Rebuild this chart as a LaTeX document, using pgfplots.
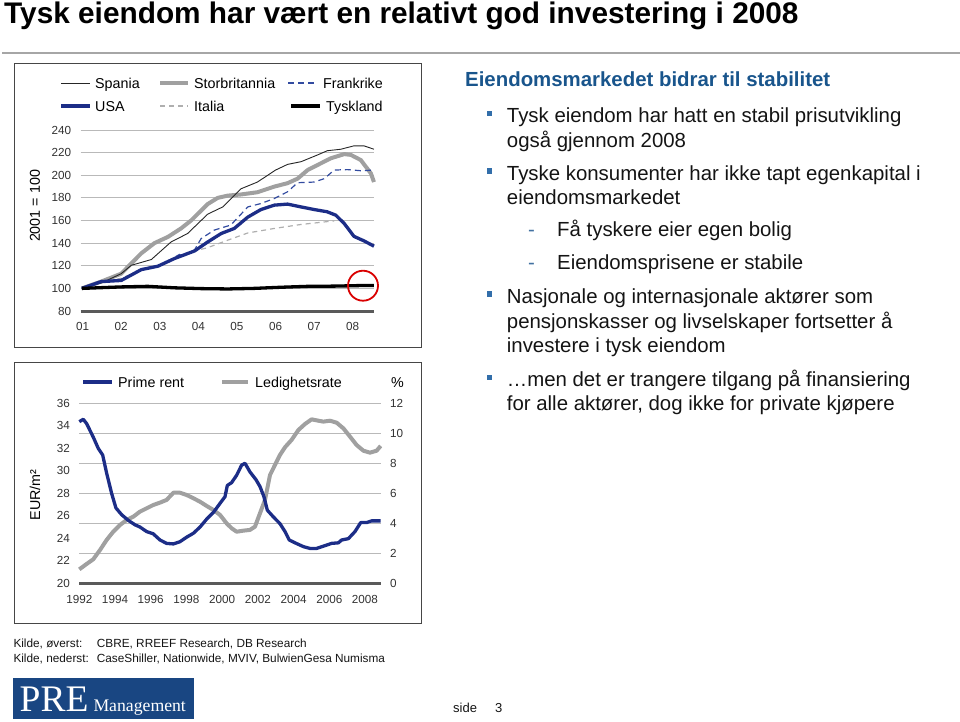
\documentclass[border=0pt]{standalone}
\usepackage{fontspec}
\setmainfont{Liberation Sans}
\newfontfamily\timesf{Liberation Serif}
\usepackage{pgfplots}
\pgfplotsset{compat=1.18}
\definecolor{navy}{RGB}{28,45,135}
\definecolor{ukgray}{RGB}{160,160,160}
\definecolor{frblue}{RGB}{50,75,160}
\definecolor{itgray}{RGB}{175,175,175}
\definecolor{gridc}{RGB}{185,185,185}
\definecolor{basec}{RGB}{90,90,90}
\definecolor{headblue}{RGB}{25,85,140}
\definecolor{bulletblue}{RGB}{50,110,170}
\definecolor{logoblue}{RGB}{25,70,130}
\definecolor{framec}{RGB}{70,70,70}
\definecolor{txt}{RGB}{20,20,20}
\definecolor{tickc}{RGB}{50,50,50}
\newcommand{\fs}[1]{\fontsize{#1}{#1}\selectfont}
\pgfplotsset{
  slide/.style={
    scale only axis,
    axis line style={draw=none},
    major tick length=0pt,
    clip=false,
    /pgf/number format/assume math mode=true,
    /pgf/number format/1000 sep={},
    tick label style={font=\fs{11.7}, text=tickc},
    yticklabel style={xshift=-6pt},
    xticklabel style={yshift=-8pt},
  }
}
\begin{document}
\begin{tikzpicture}
\useasboundingbox (0,0) rectangle (960pt,-721pt);
% title
\node[anchor=base west, inner sep=0, text=black] at (4pt,-23pt) {\fs{29.8}\bfseries Tysk eiendom har vært en relativt god investering i 2008};
\draw[gray!70, line width=2pt] (2pt,-53pt) -- (960pt,-53pt);
% frames
\draw[framec, line width=1pt] (14pt,-63.3pt) rectangle (421.7pt,-347.3pt);
\draw[framec, line width=1pt] (14pt,-362.7pt) rectangle (421.7pt,-623.3pt);

% ---------------- top chart ----------------
\begin{axis}[slide, at={(80.7pt,-311pt)}, anchor=south west,
  width=293.3pt, height=181pt,
  xmin=2000.95, xmax=2008.55, ymin=80, ymax=240,
  ytick={80,100,...,240},
  xtick={2001,...,2008}, xticklabels={01,02,03,04,05,06,07,08},
  ymajorgrids, grid style={gridc, line width=0.8pt}]
\addplot[basec, line width=3pt] coordinates {(2000.95,80) (2008.55,80)};
% Storbritannia
\addplot[ukgray, line width=4pt, line join=round] coordinates {
(2000.98,100) (2001.48,106) (2002.0,113) (2002.26,122) (2002.52,131) (2002.86,140)
(2003.21,145.5) (2003.55,153) (2003.81,160) (2004.24,174.5) (2004.5,180) (2004.76,182)
(2005.10,183) (2005.53,185) (2005.97,190) (2006.31,193) (2006.57,197) (2006.83,204.6)
(2007.17,210.5) (2007.43,215) (2007.78,218.7) (2007.95,218) (2008.21,213.4) (2008.47,201.6) (2008.55,194)};
% Italia
\addplot[itgray, line width=1.2pt, dash pattern=on 5pt off 4pt] coordinates {
(2000.98,100) (2001.48,105) (2002.0,109) (2002.52,116) (2003.03,120.4) (2003.55,129.3)
(2003.9,133) (2004.24,136) (2004.76,142.6) (2005.28,149) (2005.97,153) (2006.66,156.5) (2007.52,159.7)};
% Spania
\addplot[black!85, line width=0.9pt] coordinates {
(2000.98,100) (2001.5,105) (2002.0,113) (2002.26,120.4) (2002.78,125.5) (2003.29,141)
(2003.72,148.5) (2004.24,165.6) (2004.63,172) (2005.10,188) (2005.53,194) (2006.0,204.6)
(2006.31,209.6) (2006.66,212) (2007.09,218) (2007.34,221.7) (2007.69,223) (2008.03,226)
(2008.29,226) (2008.55,223)};
% Frankrike
\addplot[frblue, line width=1.2pt, dash pattern=on 6pt off 4pt] coordinates {
(2000.98,100) (2001.48,106) (2002.0,108) (2002.52,116) (2002.95,120) (2003.2,124)
(2003.51,130) (2003.6,128) (2003.9,134) (2004.07,144) (2004.41,151.5) (2004.84,156)
(2005.28,172) (2005.62,175) (2005.97,179.5) (2006.31,185.4) (2006.57,193.4) (2007.0,194)
(2007.26,197) (2007.52,204.6) (2007.86,205) (2008.21,204) (2008.55,204.6)};
% USA
\addplot[navy, line width=3.3pt, line join=round] coordinates {
(2000.98,100) (2001.48,106) (2002.0,107) (2002.52,116.6) (2002.95,119.6) (2003.38,126.4)
(2003.9,133.1) (2004.24,141) (2004.59,148.5) (2004.93,153) (2005.28,163) (2005.62,169.7)
(2005.97,173.6) (2006.31,174.5) (2006.66,172) (2007.0,169.7) (2007.34,167.7) (2007.56,164.7)
(2007.78,157.3) (2008.03,146) (2008.29,142) (2008.55,137.3)};
% Tyskland
\addplot[black, line width=3.3pt] coordinates {
(2000.98,100) (2002.0,101.3) (2002.69,101.8) (2003.38,100.5) (2004.07,99.8) (2004.76,99.5)
(2005.45,100) (2006.14,101) (2006.83,101.8) (2007.52,102) (2008.21,102.5) (2008.55,102.5)};
\end{axis}
% red circle
\draw[red!85!black, line width=1.8pt] (363pt,-285.7pt) circle (15pt);
% top legend
\draw[black!85, line width=0.9pt] (61pt,-83pt) -- (90pt,-83pt);
\node[anchor=base west, inner sep=0] at (95pt,-88pt) {\fs{14.3}Spania};
\draw[ukgray, line width=4pt] (160pt,-83pt) -- (188pt,-83pt);
\node[anchor=base west, inner sep=0] at (194pt,-88pt) {\fs{14.3}Storbritannia};
\draw[frblue, line width=1.2pt, dash pattern=on 6pt off 4pt] (288pt,-83pt) -- (317pt,-83pt);
\node[anchor=base west, inner sep=0] at (323pt,-88pt) {\fs{14.3}Frankrike};
\draw[navy, line width=3.3pt] (61pt,-106pt) -- (90pt,-106pt);
\node[anchor=base west, inner sep=0] at (95pt,-111pt) {\fs{14.3}USA};
\draw[itgray, line width=1.2pt, dash pattern=on 5pt off 4pt] (160pt,-106pt) -- (188pt,-106pt);
\node[anchor=base west, inner sep=0] at (194pt,-111pt) {\fs{14.3}Italia};
\draw[black, line width=3.3pt] (291pt,-106pt) -- (320pt,-106pt);
\node[anchor=base west, inner sep=0] at (326pt,-111pt) {\fs{14.3}Tyskland};
\node[rotate=90, inner sep=0] at (35pt,-206pt) {\fs{14.3}2001 = 100};

% ---------------- bottom chart ----------------
\begin{axis}[slide, at={(79.3pt,-583.3pt)}, anchor=south west,
  width=301.4pt, height=180pt,
  xmin=1992, xmax=2008.88, ymin=0, ymax=12,
  ytick={0,2,...,12},
  axis y line*=right, hide x axis,
  yticklabel style={xshift=12pt},
  ymajorgrids, grid style={gridc, line width=0.8pt}]
\addplot[basec, line width=3pt] coordinates {(1992,0) (2008.88,0)};
\addplot[ukgray, line width=4pt, line join=round] coordinates {
(1992.0,0.93) (1992.41,1.29) (1992.78,1.6) (1993.16,2.22) (1993.53,2.89) (1993.90,3.44)
(1994.28,3.89) (1994.65,4.22) (1995.02,4.44) (1995.40,4.78) (1995.77,5.0) (1996.14,5.22)
(1996.52,5.38) (1996.89,5.56) (1997.27,6.04) (1997.64,6.04) (1998.01,5.89) (1998.39,5.67)
(1998.76,5.44) (1999.13,5.16) (1999.51,4.89) (1999.88,4.56) (2000.25,4.0) (2000.53,3.67)
(2000.81,3.44) (2001.19,3.51) (2001.56,3.56) (2001.84,3.78) (2002.12,4.67) (2002.40,5.56)
(2002.68,7.22) (2002.96,7.89) (2003.24,8.56) (2003.52,9.07) (2003.89,9.56) (2004.27,10.22)
(2004.64,10.62) (2005.01,10.93) (2005.39,10.84) (2005.67,10.78) (2006.04,10.84) (2006.41,10.71)
(2006.79,10.33) (2007.16,9.78) (2007.53,9.22) (2007.91,8.84) (2008.28,8.71) (2008.65,8.84) (2008.88,9.16)};
\end{axis}
\begin{axis}[slide, at={(79.3pt,-583.3pt)}, anchor=south west,
  width=301.4pt, height=180pt,
  xmin=1992, xmax=2008.88, ymin=20, ymax=36,
  ytick={20,22,...,36},
  xtick={1992,1994,...,2008}]
\addplot[navy, line width=3.3pt, line join=round] coordinates {
(1992.0,34.37) (1992.22,34.58) (1992.41,34.2) (1992.78,33.0) (1993.06,32.0) (1993.31,31.4)
(1993.53,29.8) (1993.81,28.0) (1994.05,26.7) (1994.37,26.1) (1994.74,25.6) (1995.12,25.2)
(1995.40,25.0) (1995.77,24.6) (1996.14,24.4) (1996.52,23.85) (1996.89,23.55) (1997.27,23.5)
(1997.64,23.7) (1998.01,24.1) (1998.39,24.45) (1998.76,25.0) (1999.13,25.7) (1999.51,26.3)
(1999.97,27.3) (2000.16,27.7) (2000.29,28.7) (2000.53,28.95) (2000.81,29.6) (2001.09,30.5)
(2001.28,30.67) (2001.56,29.9) (2001.90,29.2) (2002.12,28.6) (2002.34,27.7) (2002.53,26.5)
(2002.87,25.9) (2003.24,25.3) (2003.52,24.6) (2003.76,23.85) (2004.08,23.6) (2004.55,23.26)
(2004.92,23.1) (2005.29,23.1) (2005.67,23.3) (2006.13,23.55) (2006.51,23.6) (2006.69,23.85)
(2007.07,23.97) (2007.44,24.6) (2007.76,25.4) (2008.09,25.4) (2008.37,25.55) (2008.88,25.55)};
\end{axis}
% bottom legend
\draw[navy, line width=3.3pt] (83pt,-382pt) -- (112pt,-382pt);
\node[anchor=base west, inner sep=0] at (118pt,-387pt) {\fs{14.3}Prime rent};
\draw[ukgray, line width=4pt] (222pt,-382pt) -- (248pt,-382pt);
\node[anchor=base west, inner sep=0] at (255pt,-387pt) {\fs{14.3}Ledighetsrate};
\node[anchor=base west, inner sep=0] at (391pt,-387pt) {\fs{14.3}\%};
\node[rotate=90, inner sep=0] at (35pt,-495pt) {\fs{14.3}EUR/m²};

% ---------------- right text ----------------
\node[anchor=base west, inner sep=0, text=headblue] at (465pt,-86.7pt) {\fs{20.4}\bfseries Eiendomsmarkedet bidrar til stabilitet};
\newcommand{\bul}[1]{\fill[bulletblue] (486.5pt,-#1pt+6.3pt) rectangle ++(5.6pt,5.6pt);}
\newcommand{\tl}[3]{\node[anchor=base west, inner sep=0, text=txt] at (#1pt,-#2pt) {\fs{20.4}#3};}
\bul{122.7}
\tl{506.7}{122.7}{Tysk eiendom har hatt en stabil prisutvikling}
\tl{506.7}{147.3}{også gjennom 2008}
\bul{180}
\tl{506.7}{180}{Tyske konsumenter har ikke tapt egenkapital i}
\tl{506.7}{204.5}{eiendomsmarkedet}
\node[anchor=base west, inner sep=0, text=bulletblue!80!gray] at (528pt,-236pt) {\fs{20.4}-};
\tl{557}{236}{Få tyskere eier egen bolig}
\node[anchor=base west, inner sep=0, text=bulletblue!80!gray] at (528pt,-269.3pt) {\fs{20.4}-};
\tl{557}{269.3}{Eiendomsprisene er stabile}
\bul{303.3}
\tl{506.7}{303.3}{Nasjonale og internasjonale aktører som}
\tl{506.7}{328}{pensjonskasser og livselskaper fortsetter å}
\tl{506.7}{352}{investere i tysk eiendom}
\bul{386.7}
\tl{506.7}{386.7}{…men det er trangere tilgang på finansiering}
\tl{506.7}{410.5}{for alle aktører, dog ikke for private kjøpere}

% ---------------- footer ----------------
\node[anchor=base west, inner sep=0, text=txt] at (13.3pt,-647.3pt) {\fs{11.8}Kilde, øverst:};
\node[anchor=base west, inner sep=0, text=txt] at (96.7pt,-647.3pt) {\fs{11.8}CBRE, RREEF Research, DB Research};
\node[anchor=base west, inner sep=0, text=txt] at (13.3pt,-662.3pt) {\fs{11.8}Kilde, nederst:};
\node[anchor=base west, inner sep=0, text=txt] at (96.7pt,-662.3pt) {\fs{11.8}CaseShiller, Nationwide, MVIV, BulwienGesa Numisma};
\fill[logoblue] (13.3pt,-678.3pt) rectangle (194.3pt,-719.3pt);
\node[anchor=base west, inner sep=0, text=white] at (19.5pt,-711.7pt) {\timesf\fs{37.5}PRE};
\node[anchor=base west, inner sep=0, text=white] at (93.3pt,-711.5pt) {\timesf\fs{17.7}Management};
\node[anchor=base west, inner sep=0, text=txt] at (453pt,-712.3pt) {\fs{13}side};
\node[anchor=base west, inner sep=0, text=txt] at (495pt,-712.3pt) {\fs{13}3};
\end{tikzpicture}
\end{document}
